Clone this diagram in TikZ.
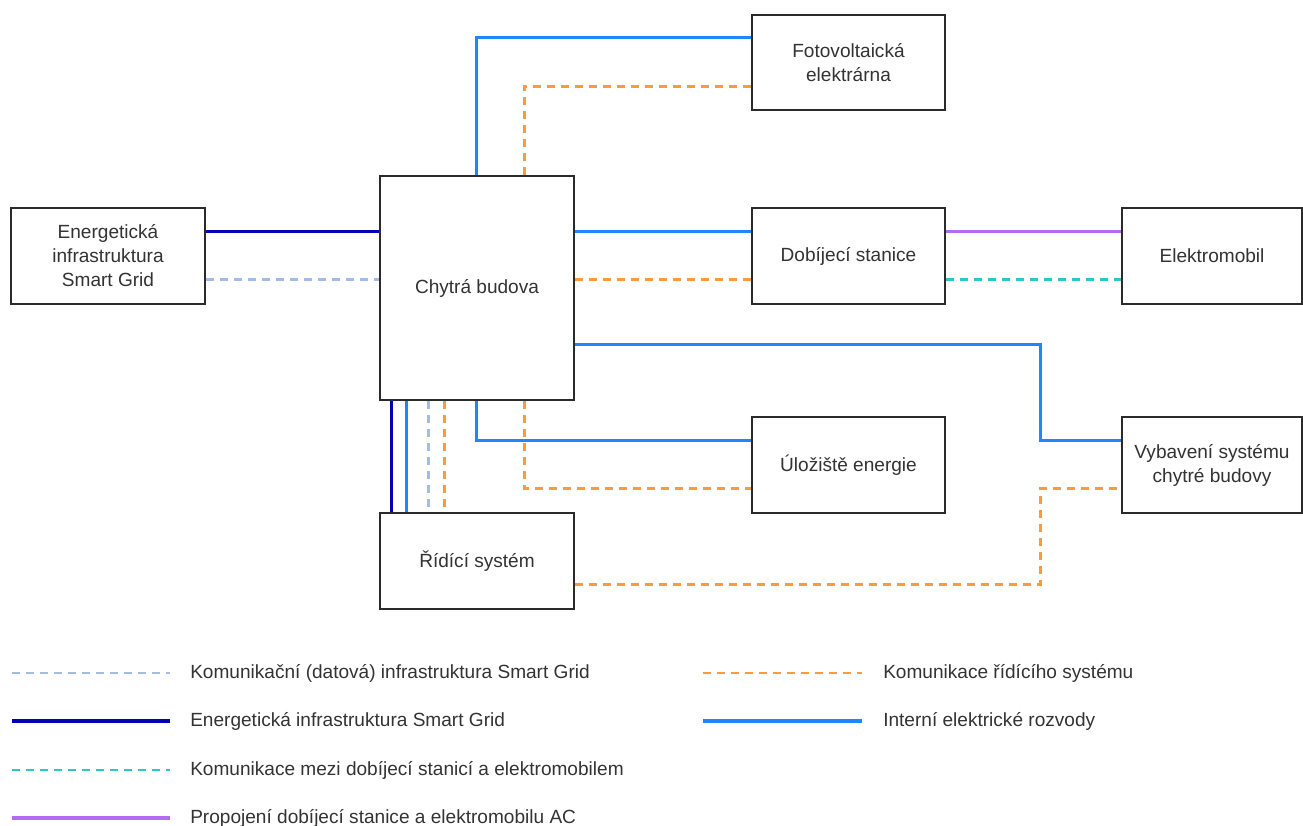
\documentclass[tikz,border=0pt]{standalone}
\usepackage{fontspec}
\setmainfont{Liberation Sans}
\usetikzlibrary{calc}
\definecolor{ibl}{HTML}{1E86FF}
\definecolor{dbl}{HTML}{0000B8}
\definecolor{lbl}{HTML}{A3BCE6}
\definecolor{org}{HTML}{FF9A3C}
\definecolor{tea}{HTML}{2CC7C7}
\definecolor{pur}{HTML}{B26BF2}
\definecolor{boxc}{HTML}{2B2B2B}
\definecolor{txt}{HTML}{333333}
\begin{document}
\begin{tikzpicture}[x=0.75pt,y=-0.75pt,
  box/.style={draw=boxc, line width=1pt, fill=white, align=center, text=txt,
    font=\fontsize{14.3}{18}\selectfont, inner sep=0pt},
  intl/.style={draw=ibl, line width=2.3pt},
  engl/.style={draw=dbl, line width=2.3pt},
  datal/.style={draw=lbl, line width=2.1pt, dash pattern=on 6pt off 4.5pt},
  ctrll/.style={draw=org, line width=2.1pt, dash pattern=on 6pt off 4.5pt},
  teal/.style={draw=tea, line width=2.1pt, dash pattern=on 6pt off 4.5pt},
  acl/.style={draw=pur, line width=2.3pt},
  legt/.style={anchor=west, text=txt, font=\fontsize{14.3}{16}\selectfont, inner sep=0pt}]
\useasboundingbox (0,0) rectangle (1303,825);

% boxes
\node[box, minimum width=144.75pt, minimum height=71.25pt] (fv) at (848.5,62.5) {Fotovoltaická\\elektrárna};
\node[box, minimum width=145.5pt, minimum height=72pt] (eg) at (108,256) {Energetická\\infrastruktura\\Smart Grid};
\node[box, minimum width=145.5pt, minimum height=168pt] (cb) at (477,288) {Chytrá budova};
\node[box, minimum width=144.75pt, minimum height=72pt] (ds) at (848.5,256) {Dobíjecí stanice};
\node[box, minimum width=135pt, minimum height=72pt] (em) at (1212,256) {Elektromobil};
\node[box, minimum width=144.75pt, minimum height=72pt] (ul) at (848.5,465) {Úložiště energie};
\node[box, minimum width=135pt, minimum height=72pt] (vy) at (1212,465) {Vybavení systému\\chytré budovy};
\node[box, minimum width=145.5pt, minimum height=72pt] (rs) at (477,561) {Řídící systém};

% connectors
\draw[intl] ($(cb.north west)+(97,0)$) |- ($(fv.north west)+(0,23)$);
\draw[ctrll] ($(cb.north west)+(145,0)$) |- ($(fv.north west)+(0,72)$);
\draw[engl] ($(eg.north east)+(0,24)$) -- ($(cb.north west)+(0,56)$);
\draw[datal] ($(eg.north east)+(0,72)$) -- ($(cb.north west)+(0,104)$);
\draw[intl] ($(cb.north east)+(0,56)$) -- ($(ds.north west)+(0,24)$);
\draw[ctrll] ($(cb.north east)+(0,104)$) -- ($(ds.north west)+(0,72)$);
\draw[acl] ($(ds.north east)+(0,24)$) -- ($(em.north west)+(0,24)$);
\draw[teal] ($(ds.north east)+(0,72)$) -- ($(em.north west)+(0,72)$);
\draw[intl] ($(cb.north east)+(0,169)$) -- ++(466,0) |- ($(vy.north west)+(0,24)$);
\draw[intl] ($(cb.south west)+(97,0)$) |- ($(ul.north west)+(0,24)$);
\draw[ctrll] ($(cb.south west)+(145,0)$) |- ($(ul.north west)+(0,72)$);
\draw[ctrll] ($(rs.north east)+(0,72)$) -- ++(466,0) |- ($(vy.north west)+(0,72)$);
\draw[engl] ($(cb.south west)+(12,0)$) -- ($(rs.north west)+(12,0)$);
\draw[intl] ($(cb.south west)+(27,0)$) -- ($(rs.north west)+(27,0)$);
\draw[datal] ($(cb.south west)+(49,0)$) -- ($(rs.north west)+(49,0)$);
\draw[ctrll] ($(cb.south west)+(65,0)$) -- ($(rs.north west)+(65,0)$);

% legend
\coordinate (l1a) at (12,673); \coordinate (l1b) at (170,673);
\coordinate (l2a) at (12,721); \coordinate (l2b) at (170,721);
\coordinate (l3a) at (12,770); \coordinate (l3b) at (170,770);
\coordinate (l4a) at (12,818); \coordinate (l4b) at (170,818);
\coordinate (l5a) at (703,673); \coordinate (l5b) at (862,673);
\coordinate (l6a) at (703,721); \coordinate (l6b) at (862,721);
\draw[datal] (l1a) -- (l1b);
\draw[engl] (l2a) -- (l2b);
\draw[teal] (l3a) -- (l3b);
\draw[acl] (l4a) -- (l4b);
\draw[ctrll] (l5a) -- (l5b);
\draw[intl] (l6a) -- (l6b);
\node[legt] (t1) at (190,673) {Komunikační (datová) infrastruktura Smart Grid};
\node[legt] (t2) at (190,721) {Energetická infrastruktura Smart Grid};
\node[legt] (t3) at (190,770) {Komunikace mezi dobíjecí stanicí a elektromobilem};
\node[legt] (t4) at (190,818) {Propojení dobíjecí stanice a elektromobilu AC};
\node[legt] (t5) at (883,673) {Komunikace řídícího systému};
\node[legt] (t6) at (883,721) {Interní elektrické rozvody};
\end{tikzpicture}
\end{document}
